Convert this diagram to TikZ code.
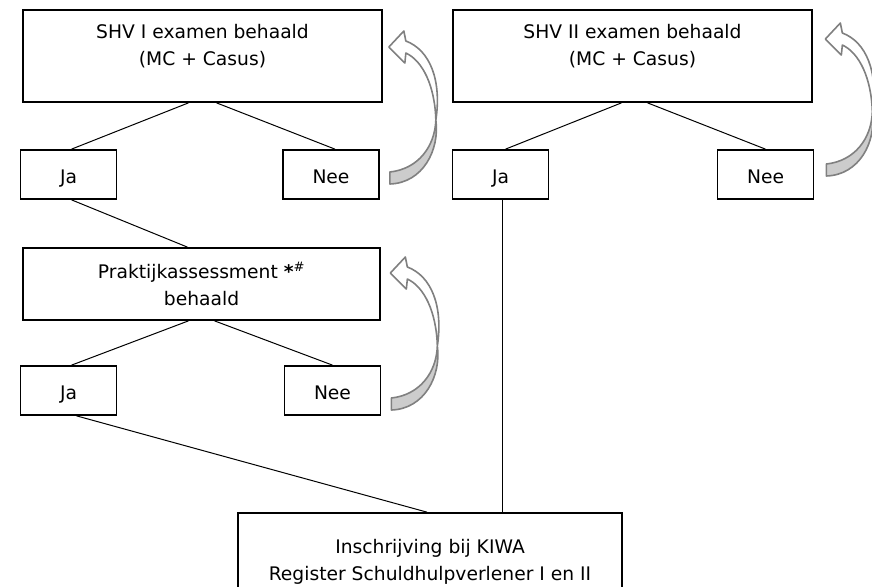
\documentclass[tikz,border=0pt]{standalone}
\usepackage{fontspec}
\setmainfont{DejaVu Sans}
\begin{document}
\begin{tikzpicture}[x=1pt,y=-1pt,
    every node/.style={font=\fontsize{18.7}{27}\selectfont},
    bigbox/.style={draw,line width=1.7pt,inner sep=0pt,align=center},
    smallbox/.style={draw,line width=1.7pt,inner sep=0pt,minimum width=96pt,
      minimum height=49pt,text height=17pt,text depth=0pt},
    link/.style={line width=1pt},
    arrowback/.style={draw=gray,line width=1.6pt,fill=gray!40,line join=round},
    arrowfront/.style={draw=gray,line width=1.6pt,fill=white,line join=round},
    backarrow/.pic={
      % back face of the band
      \filldraw[arrowback] (0,0) .. controls (28,-3) and (45,-25) .. (46,-52)
        .. controls (50,-22) and (33,11) .. (0,12) -- cycle;
      % front face with the head
      \filldraw[arrowfront] (46,-52) .. controls (52,-92) and (40,-122) .. (16,-131)
        -- (14,-141) -- (-1,-125) -- (15,-109) -- (16,-119)
        .. controls (33,-111) and (45,-86) .. cycle;
    }]
  \useasboundingbox (0,0) rectangle (872,586);

  % first exam
  \node[bigbox,minimum width=359pt,minimum height=92pt] (shv1) at (202.5,56)
    {SHV I examen behaald\\(MC + Casus)\rule[-23.2pt]{0pt}{23.2pt}};
  \node[smallbox] (ja1) at (68.5,174.5) {Ja};
  \node[smallbox] (nee1) at (331,174.5) {Nee};

  % second exam
  \node[bigbox,minimum width=359pt,minimum height=92pt] (shv2) at (632.5,56)
    {SHV II examen behaald\\(MC + Casus)\rule[-23.2pt]{0pt}{23.2pt}};
  \node[smallbox] (ja2) at (500.5,174.5) {Ja};
  \node[smallbox] (nee2) at (765.5,174.5) {Nee};

  % assessment
  \node[bigbox,minimum width=357pt,minimum height=72pt] (prak) at (201.5,284)
    {Praktijkassessment \textbf{*}\textsuperscript{\#}\\behaald};
  \node[smallbox] (ja3) at (68.5,390.5) {Ja};
  \node[smallbox] (nee3) at (332.5,390.5) {Nee};

  % register
  \node[bigbox,minimum width=384pt,minimum height=97pt] (kiwa) at (430,561.5)
    {Inschrijving bij KIWA\\Register Schuldhulpverlener I en II};

  \draw[link] ([xshift=-14pt]shv1.south) -- ([xshift=3pt]ja1.north);
  \draw[link] ([xshift=14pt]shv1.south) -- ([xshift=4pt]nee1.north);
  \draw[link] ([xshift=-11pt]shv2.south) -- ([xshift=5pt]ja2.north);
  \draw[link] ([xshift=15pt]shv2.south) -- (nee2.north);
  \draw[link] ([xshift=3pt]ja1.south) -- ([xshift=-14pt]prak.north);
  \draw[link] ([xshift=-13pt]prak.south) -- ([xshift=3pt]ja3.north);
  \draw[link] ([xshift=13pt]prak.south) -- (nee3.north);
  \draw[link] ([xshift=8pt]ja3.south) -- ([xshift=-3pt]kiwa.north);
  \draw[link] ([xshift=1.5pt]ja2.south) -- ([xshift=1.5pt]ja2.south |- kiwa.north);

  \pic at ([xshift=10pt,yshift=2.5pt]nee1.east) {backarrow};
  \pic at ([xshift=12pt,yshift=10.5pt]nee2.east) {backarrow};
  \pic at ([xshift=10pt,yshift=-7.5pt]nee3.east) {backarrow};
\end{tikzpicture}
\end{document}
